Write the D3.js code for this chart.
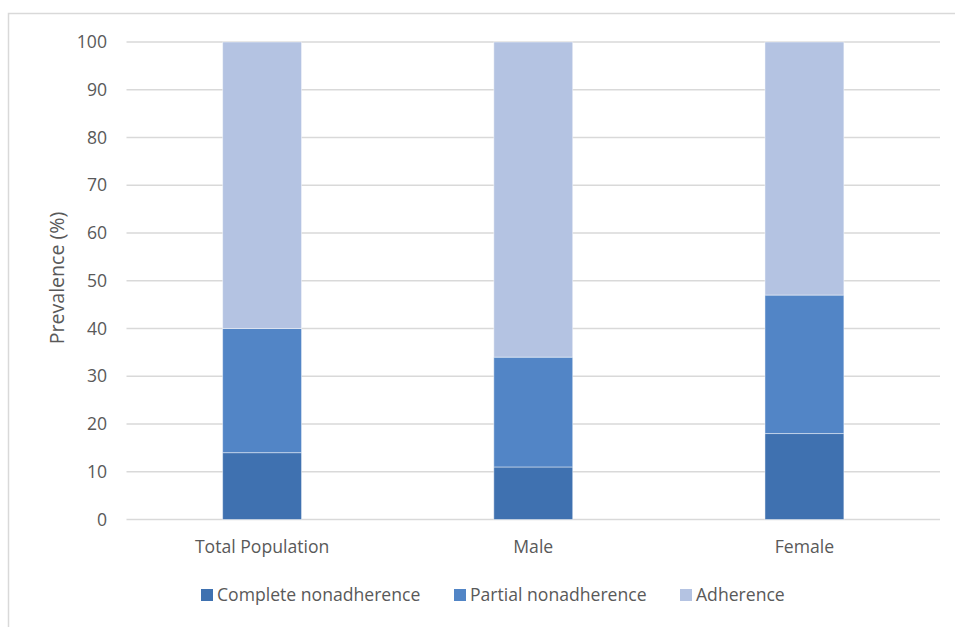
<!DOCTYPE html>
<html>
<head>
<meta charset="utf-8">
<script src="https://cdn.jsdelivr.net/npm/d3@7"></script>
<style>
  html, body { margin: 0; padding: 0; background: #fff; }
  svg { display: block; }
  text { font-family: "Open Sans", sans-serif; fill: #595959; }
</style>
</head>
<body>
<svg id="chart" width="955" height="627"></svg>
<script>
// Prevalence of adherence by group (%), stacked bottom to top
const categories = ["Total Population", "Male", "Female"];
const completeNonadherence = [14, 11, 18];
const partialNonadherence = [26, 23, 29];
const adherence = [60, 66, 53];
const seriesNames = ["Complete nonadherence", "Partial nonadherence", "Adherence"];
const yTicks = [0, 10, 20, 30, 40, 50, 60, 70, 80, 90, 100];
const yTitle = "Prevalence (%)";

const colors = ["#3F71B0", "#5285C6", "#B4C3E2"];
const fontSize = 17.6;
const titleSize = 19.6;

const svg = d3.select("#chart");
const W = 955, H = 627;
const plot = { left: 126.5, right: 940, top: 42, bottom: 519.5 };

// outer chart frame (top and left edges visible)
svg.append("rect")
  .attr("x", 8.5).attr("y", 13.5)
  .attr("width", W + 10).attr("height", H + 10)
  .attr("fill", "none").attr("stroke", "#D9D9D9").attr("stroke-width", 1.5);

const rows = categories.map((c, i) => ({
  category: c,
  "Complete nonadherence": completeNonadherence[i],
  "Partial nonadherence": partialNonadherence[i],
  "Adherence": adherence[i]
}));
const stacked = d3.stack().keys(seriesNames)(rows);

const x = d3.scaleBand()
  .domain(categories)
  .range([plot.left, plot.right])
  .paddingInner(0.709)
  .paddingOuter(0.3545);

const y = d3.scaleLinear().domain([0, 100]).range([plot.bottom, plot.top]);

// gridlines
svg.append("g")
  .selectAll("line")
  .data(yTicks)
  .join("line")
  .attr("x1", plot.left).attr("x2", plot.right)
  .attr("y1", d => y(d)).attr("y2", d => y(d))
  .attr("stroke", "#D9D9D9").attr("stroke-width", 1.5);

// y axis labels
const yAxis = d3.axisLeft(y).tickValues(yTicks).tickSize(0).tickPadding(0);
const gy = svg.append("g").attr("transform", `translate(107,0)`).call(yAxis);
gy.select(".domain").remove();
gy.selectAll("text")
  .attr("font-size", fontSize)
  .style("font-family", "'Open Sans', sans-serif")
  .attr("fill", "#595959");

// bars
svg.append("g")
  .selectAll("g")
  .data(stacked)
  .join("g")
  .attr("fill", (d, i) => colors[i])
  .selectAll("rect")
  .data(d => d)
  .join("rect")
  .attr("x", d => x(d.data.category))
  .attr("width", x.bandwidth())
  .attr("y", d => y(d[1]))
  .attr("height", d => y(d[0]) - y(d[1]))
  .attr("stroke", "#ffffff").attr("stroke-opacity", 0.45).attr("stroke-width", 1);

// x axis labels
const xAxis = d3.axisBottom(x).tickSize(0).tickPadding(0);
const gx = svg.append("g").attr("transform", `translate(0,547)`).call(xAxis);
gx.select(".domain").remove();
gx.selectAll("text")
  .attr("dy", "0.35em")
  .attr("y", 0)
  .attr("font-size", fontSize)
  .style("font-family", "'Open Sans', sans-serif")
  .attr("fill", "#595959");

// y axis title
svg.append("text")
  .attr("transform", "translate(57,278) rotate(-90)")
  .attr("text-anchor", "middle")
  .attr("dy", "0.35em")
  .attr("font-size", titleSize)
  .text(yTitle);

// legend
const legendX = [201, 454, 680];
const legend = svg.append("g")
  .selectAll("g")
  .data(seriesNames)
  .join("g")
  .attr("transform", (d, i) => `translate(${legendX[i]},589)`);
legend.append("rect")
  .attr("width", 12).attr("height", 12)
  .attr("fill", (d, i) => colors[i]);
legend.append("text")
  .attr("x", 16).attr("y", 6)
  .attr("dy", "0.35em")
  .attr("font-size", fontSize)
  .text(d => d);
</script>
</body>
</html>
